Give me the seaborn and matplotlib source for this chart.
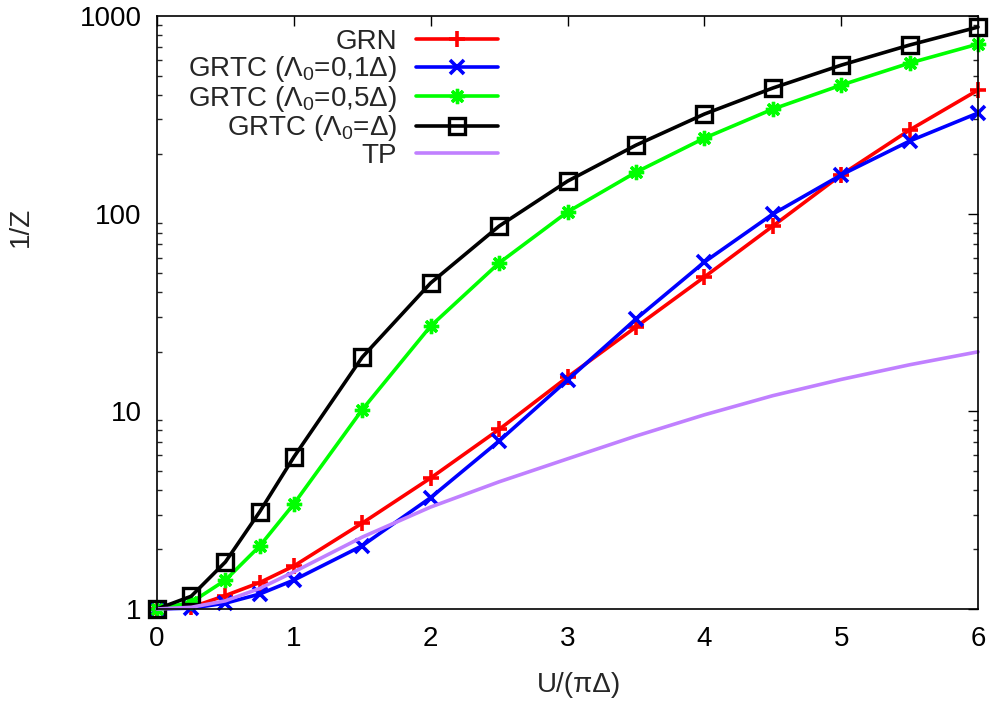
import numpy as np
import pandas as pd
import matplotlib
matplotlib.use("Agg")
import matplotlib.pyplot as plt
import seaborn as sns
from matplotlib.ticker import FixedLocator, FixedFormatter, LogLocator, NullFormatter

# ---------------- data ----------------
u_pts = [0, 0.25, 0.5, 0.75, 1, 1.5, 2, 2.5, 3, 3.5, 4, 4.5, 5, 5.5, 6]
grn = [1.0, 1.02, 1.17, 1.36, 1.65, 2.72, 4.6, 8.1, 14.9, 26.7, 47.8, 86.5, 157, 265, 422]
grtc_01 = [1.0, 1.01, 1.07, 1.19, 1.40, 2.09, 3.66, 7.08, 14.4, 29.3, 56.9, 99.5, 157, 233, 323]
grtc_05 = [1.0, 1.08, 1.40, 2.08, 3.40, 10.2, 27.0, 56.3, 102, 162, 241, 338, 447, 578, 721]
grtc_1 = [1.0, 1.16, 1.73, 3.1, 5.87, 18.8, 44.6, 86.5, 146, 222, 319, 432, 564, 713, 879]

u_tp = [0, 0.25, 0.5, 0.75, 1, 1.5, 2, 2.5, 3, 3.5, 4, 4.5, 5, 5.5, 6]
tp = [1.0, 1.02, 1.10, 1.27, 1.54, 2.31, 3.28, 4.4, 5.75, 7.5, 9.6, 12.0, 14.5, 17.2, 20.0]

labels = ["GRN", "GRTC (Λ$_0$=0,1Δ)", "GRTC (Λ$_0$=0,5Δ)", "GRTC (Λ$_0$=Δ)", "TP"]
x_ticks = [0, 1, 2, 3, 4, 5, 6]
y_ticks = [1, 10, 100, 1000]
y_tick_labels = ["1", "10", "100", "1000"]

# ---------------- style ----------------
sns.set_style("white")
plt.rcParams["font.family"] = ["Liberation Sans", "DejaVu Sans"]
plt.rcParams["mathtext.fontset"] = "custom"
plt.rcParams["mathtext.rm"] = "Liberation Sans"
plt.rcParams["mathtext.it"] = "Liberation Sans:italic"
plt.rcParams["mathtext.default"] = "rm"

FS = 20

fig = plt.figure(figsize=(9.93, 7.02), dpi=100)
ax = fig.add_axes([157 / 993, 1 - 609 / 702, (978 - 157) / 993, (609 - 16) / 702])

lw = 2.6
series = [
    (u_pts, grn, labels[0], "#ff0000", dict(marker="+", markersize=11, markeredgewidth=2.6)),
    (u_pts, grtc_01, labels[1], "#0000ff", dict(marker="x", markersize=10, markeredgewidth=2.6)),
    (u_pts, grtc_05, labels[2], "#00ff00", dict(marker=(8, 2, 0), markersize=11, markeredgewidth=2.4)),
    (u_pts, grtc_1, labels[3], "#000000", dict(marker="s", markersize=11, markeredgewidth=2.4,
                                                 markerfacecolor="none")),
    (u_tp, tp, labels[4], "#c080ff", dict(marker=None)),
]

for xs, ys, lab, col, mk in series:
    df = pd.DataFrame({"U": xs, "Z": ys})
    kw = dict(mk)
    if kw.get("marker") is not None:
        kw.setdefault("markeredgecolor", col)
    else:
        kw.pop("marker")
    sns.lineplot(data=df, x="U", y="Z", ax=ax, color=col, linewidth=lw, label=lab,
                 clip_on=False, estimator=None, sort=False, **kw)

ax.set_yscale("log")
ax.set_xlim(0, 6)
ax.set_ylim(1, 1000)

ax.xaxis.set_major_locator(FixedLocator(x_ticks))
ax.set_xticklabels([str(t) for t in x_ticks])
ax.yaxis.set_major_locator(FixedLocator(y_ticks))
ax.yaxis.set_major_formatter(FixedFormatter(y_tick_labels))
ax.yaxis.set_minor_locator(LogLocator(base=10, subs=np.arange(2, 10)))
ax.yaxis.set_minor_formatter(NullFormatter())

ax.tick_params(axis="both", which="major", direction="in", length=7, width=1.0,
               top=True, right=True, labelsize=FS, colors="black")
ax.tick_params(axis="x", which="major", pad=12)
ax.tick_params(axis="y", which="major", pad=11)
ax.tick_params(axis="y", which="minor", direction="in", length=3.5, width=1.0,
               left=True, right=True)
for s in ax.spines.values():
    s.set_linewidth(1.2)
    s.set_color("black")
    s.set_visible(True)

ax.set_xlabel("U/(πΔ)", fontsize=FS)
ax.set_ylabel("1/Z", fontsize=FS)
ax.xaxis.set_label_coords((579 - 157) / 821, (609 - 672) / 593)
ax.yaxis.set_label_coords((34 - 157) / 821, (609 - 227) / 593)

leg = ax.legend(loc="upper right", bbox_to_anchor=(498 / 993, 1 - 29 / 702),
                bbox_transform=fig.transFigure, frameon=False, markerfirst=False,
                fontsize=FS, handlelength=2.95, handletextpad=0.68, labelspacing=-0.02,
                borderpad=0, borderaxespad=0)

fig.savefig("out.png", dpi=100)
